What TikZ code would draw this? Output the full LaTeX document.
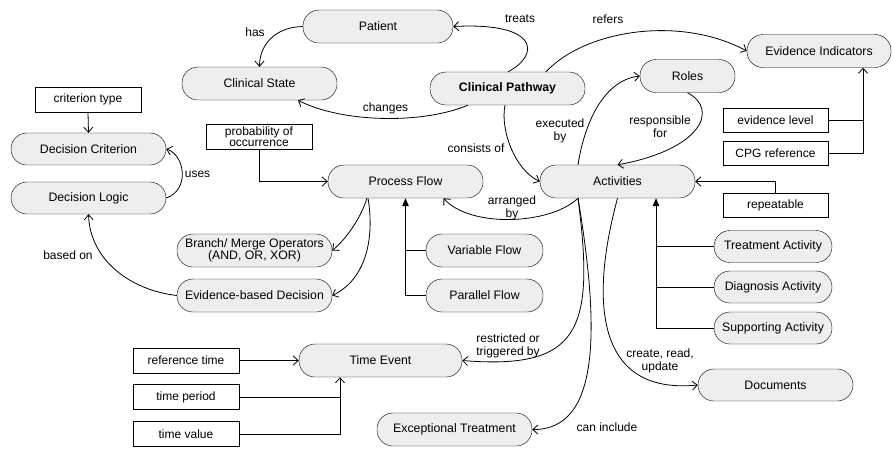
\documentclass[tikz,border=0pt]{standalone}
\usepackage{fontspec}
\setmainfont{Liberation Sans}
\usetikzlibrary{arrows.meta}
\definecolor{pillgray}{RGB}{238,238,238}
\tikzset{
  pill/.style={draw, fill=pillgray, rounded corners=16pt, minimum height=33pt, inner sep=0pt, align=center, font=\fontsize{12.3}{13}\selectfont},
  boxn/.style={draw, fill=white, minimum height=25pt, minimum width=106pt, inner sep=0pt, align=center, font=\fontsize{12}{12.5}\selectfont},
  lbl/.style={align=center, inner sep=0pt, font=\fontsize{12}{13}\selectfont},
  arr/.style={line width=0.8pt, -{Straight Barb[length=5pt,width=9pt]}},
  farr/.style={line width=0.8pt, -{Triangle[length=8pt,width=6.5pt]}},
  ln/.style={line width=0.8pt},
}
\begin{document}
\begin{tikzpicture}[x=1pt,y=-1pt]
\useasboundingbox (0,0) rectangle (893,448);
% nodes
\node[pill, minimum width=150pt] (patient) at (378,26.5) {Patient};
\node[pill, minimum width=155pt] (cstate) at (259.5,83.5) {Clinical State};
\node[pill, minimum width=155pt] (cpath) at (507.5,88.5) {\bfseries Clinical Pathway};
\node[pill, minimum width=144pt] (evid) at (819,51) {Evidence Indicators};
\node[pill, minimum width=95pt] (roles) at (687.5,76) {Roles};
\node[boxn] (crit) at (88,99.5) {criterion type};
\node[pill, minimum width=155pt, minimum height=32pt] (dcrit) at (88.5,149) {Decision Criterion};
\node[pill, minimum width=155pt, minimum height=32pt] (dlogic) at (88.5,198) {Decision Logic};
\node[boxn, font=\fontsize{12}{11.5}\selectfont] (prob) at (259,136.5) {probability of\\occurrence};
\node[pill, minimum width=155pt] (pflow) at (405.5,181.5) {Process Flow};
\node[pill, minimum width=155pt] (acts) at (617.5,181.5) {Activities};
\node[boxn, minimum width=105pt, minimum height=24pt] (evlev) at (775.5,120) {evidence level};
\node[boxn, minimum width=105pt, minimum height=24pt] (cpg) at (775.5,153) {CPG reference};
\node[boxn, minimum width=105pt, minimum height=24pt] (rep) at (775.5,205.5) {repeatable};
\node[pill, minimum width=155pt, font=\fontsize{12.3}{12.5}\selectfont] (branch) at (254.5,250.5) {Branch/ Merge Operators\\(AND, OR, XOR)};
\node[pill, minimum width=155pt] (ebd) at (254.5,295.5) {Evidence-based Decision};
\node[pill, minimum width=117pt] (varf) at (484.5,250.5) {Variable Flow};
\node[pill, minimum width=117pt] (parf) at (484.5,295.5) {Parallel Flow};
\node[pill, minimum width=163pt] (tevent) at (380.5,360.5) {Time Event};
\node[boxn] (reft) at (186,360.5) {reference time};
\node[boxn] (tper) at (186,397) {time period};
\node[boxn] (tval) at (186,434) {time value};
\node[pill, minimum width=155pt] (exc) at (454.5,429.5) {Exceptional Treatment};
\node[pill, minimum width=118pt, minimum height=32pt] (treat) at (773,246.5) {Treatment Activity};
\node[pill, minimum width=118pt, minimum height=32pt] (diag) at (773,287) {Diagnosis Activity};
\node[pill, minimum width=118pt, minimum height=32pt] (supp) at (773,328) {Supporting Activity};
\node[pill, minimum width=155pt, minimum height=32pt] (docs) at (775.5,385) {Documents};
% helper coordinates
\coordinate (actsbar) at ([xshift=38.5pt]acts.south);
\coordinate (evbar) at ([xshift=44pt]evid.south);
\coordinate (tebar) at ([xshift=-40.5pt]tevent.south);
% connectors
\draw[arr] (patient.west) .. controls (275,27) and (259.5,45) .. (cstate.north);
\draw[arr] ([xshift=0.5pt]cpath.north) .. controls (540,55) and (540,22) .. (patient.east);
\draw[arr] ([xshift=-39.5pt]cpath.south) .. controls (420,125) and (340,122) .. ([xshift=38.5pt]cstate.south);
\draw[arr] ([xshift=38.5pt]cpath.north) .. controls (585,30) and (680,15) .. (evid.west);
\draw[arr] ([xshift=-2.5pt]cpath.south) .. controls (500,130) and (515,170) .. (acts.west);
\draw[arr] ([xshift=-39.5pt]acts.north) .. controls (585,120) and (605,80) .. (roles.west);
\draw[arr] (roles.south) .. controls (720,110) and (700,150) .. (acts.north);
\draw[arr] (evlev.east) -| (evbar);
\draw[ln] (cpg.east) -- (cpg.east -| evbar) -- (evlev.east -| evbar);
\draw[arr] (rep.north) |- (acts.east);
\draw[arr] ([xshift=-39.5pt]acts.south) .. controls (550,225) and (470,228) .. ([xshift=38pt]pflow.south);
\draw[arr] (crit.south) -- (dcrit.north);
\draw[arr] (dlogic.east) .. controls (190,190) and (185,155) .. (dcrit.east);
\draw[arr] (prob.south) |- (pflow.west);
\draw[arr] ([xshift=-38.5pt]pflow.south) .. controls (360,220) and (345,240) .. (branch.east);
\draw[arr] ([xshift=-37.5pt]pflow.south) .. controls (375,240) and (365,280) .. (ebd.east);
\draw[arr] (ebd.west) .. controls (130,290) and (90,260) .. (dlogic.south);
\draw[farr] (parf.west) -| (pflow.south);
\draw[ln] (varf.west) -- (varf.west -| pflow.south);
\draw[farr] (supp.west) -| (actsbar);
\draw[ln] (treat.west) -- (treat.west -| actsbar);
\draw[ln] (diag.west) -- (diag.west -| actsbar);
\draw[arr] ([xshift=-39.5pt]acts.south) .. controls (595,330) and (580,370) .. (tevent.east);
\draw[arr] ([xshift=-39.5pt]acts.south) .. controls (600,330) and (600,430) .. (exc.east);
\draw[arr] (acts.south) .. controls (590,300) and (595,395) .. (docs.west);
\draw[arr] (reft.east) -- (tevent.west);
\draw[arr] (tper.east) -| (tebar);
\draw[ln] (tval.east) -- (tval.east -| tebar) -- (tper.east -| tebar);
% labels
\node[lbl] (l1) at (255,32) {has};
\node[lbl] (l2) at (520,19) {treats};
\node[lbl] (l3) at (608,19) {refers};
\node[lbl] (l4) at (385.5,108) {changes};
\node[lbl] (l5) at (476,148) {consists of};
\node[lbl] (l6) at (560,131) {executed\\by};
\node[lbl] (l7) at (660,127) {responsible\\for};
\node[lbl] (l8) at (512,208) {arranged\\by};
\node[lbl] (l9) at (197.5,174) {uses};
\node[lbl] (l10) at (68,255) {based on};
\node[lbl] (l11) at (508,346) {restricted or\\triggered by};
\node[lbl] (l12) at (607,427) {can include};
\node[lbl] (l13) at (660,361) {create, read,\\update};
\end{tikzpicture}
\end{document}
